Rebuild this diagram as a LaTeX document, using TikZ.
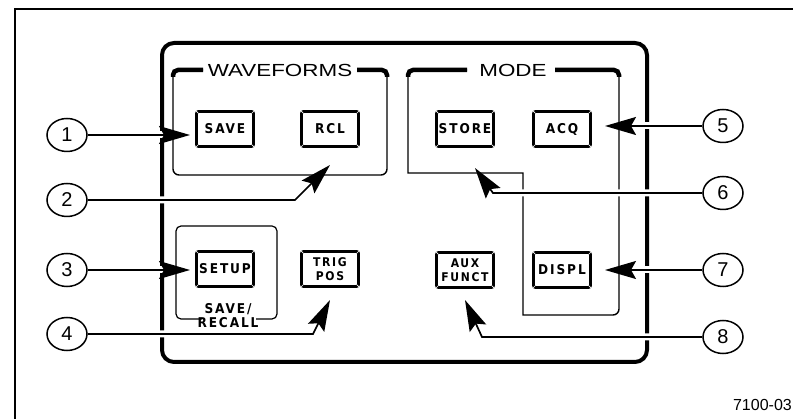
\documentclass[tikz,border=0pt]{standalone}
\usepackage{fontspec}
\usepackage{graphicx}
\setmainfont{Liberation Sans}
\newfontfamily\keyfont{DejaVu Sans Condensed}[LetterSpace=14]
\usetikzlibrary{positioning,shapes.geometric,arrows.meta}

\tikzset{
  key/.style={draw, line width=2.8pt, rounded corners=2pt, minimum width=57pt,
    minimum height=35pt, inner sep=0pt, align=center,
    font=\keyfont\bfseries\fontsize{13.5}{13.5}\selectfont},
  keysmall/.style={font=\keyfont\bfseries\fontsize{12}{14}\selectfont},
  num/.style={draw, ellipse, line width=1.5pt, minimum width=40pt,
    minimum height=33pt, inner sep=0pt, font=\fontsize{20}{20}\selectfont},
  callout/.style={-{Stealth[length=31pt, width=18pt, inset=5pt]}, line width=1.7pt,
    preaction={draw=white, line width=7pt, -, shorten <=4pt, shorten >=14pt}},
  box/.style={line width=1.4pt, rounded corners=6pt},
  bar/.style={line width=4.5pt, rounded corners=5pt},
  title/.style={inner sep=0pt, font=\fontsize{17.5}{17.5}\selectfont}
}

\begin{document}
\begin{tikzpicture}[x=1pt, y=-1pt, node distance=105pt, on grid]
  \useasboundingbox (0,0) rectangle (793,419);

  % outer frame and panel
  \draw[line width=1.8pt] (15,419) |- (793,9);
  \draw[line width=4pt, rounded corners=12pt] (162,43) rectangle (647,362);

  % group boxes
  \node[title] (wave) at (280,70) {\scalebox{1.28}[1]{WAVEFORMS}};
  \draw[box] (203,70) -- (173,70) -- (173,175) -- (387,175) -- (387,70) -- (357,70);
  \draw[bar] (203,70) -- (173,70) -- (173,77);
  \draw[bar] (357,70) -- (387,70) -- (387,77);

  \node[title] (mode) at (513,70) {\scalebox{1.28}[1]{MODE}};
  \draw[box] (467,70) -- (408,70) -- (408,120) [sharp corners] -- (408,173)
    -- (523,173) -- (523,315) -- (570,315) [rounded corners=6pt] -- (619,315)
    -- (619,70) -- (555,70);
  \draw[bar] (467,70) -- (408,70) -- (408,77);
  \draw[bar] (555,70) -- (619,70) -- (619,77);

  \node[inner sep=0pt, align=center, font=\keyfont\bfseries\fontsize{13.5}{14}\selectfont]
    (saverecall) at (228,316) {SAVE/\\RECALL};
  \draw[box, line width=1.2pt, rounded corners=5pt] (202,319) -- (176,319) -- (176,226)
    -- (277,226) -- (277,319) -- (256,319);

  % keys
  \node[key] (save) at (225,129) {SAVE};
  \node[key, right=of save] (rcl) {RCL};
  \node[key, below=140pt of save] (setup) {SETUP};
  \node[key, keysmall, right=of setup] (trig) {TRIG\\POS};
  \node[key] (store) at (465,129) {STORE};
  \node[key, right=97pt of store] (acq) {ACQ};
  \node[key, keysmall, below=141pt of store] (aux) {AUX\\FUNCT};
  \node[key, right=97pt of aux] (displ) {DISPL};
  \foreach \k in {save,rcl,setup,trig,store,acq,aux,displ}
    \foreach \a/\u/\v in {north west/1/1, north east/-1/1, south west/1/-1, south east/-1/-1}
      \draw[white, line width=0.7pt] ([shift={(\u*0.3,\v*0.3)}]\k.\a) -- ++(\u*2.8,\v*2.8);

  % callout numbers
  \node[num] (c1) at (67,135) {1};
  \node[num, below=65pt of c1] (c2) {2};
  \node[num, below=70pt of c2] (c3) {3};
  \node[num, below=64pt of c3] (c4) {4};
  \node[num] (c5) at (723,126) {5};
  \node[num, below=67pt of c5] (c6) {6};
  \node[num, below=77pt of c6] (c7) {7};
  \node[num, below=67pt of c7] (c8) {8};

  % arrow tips and bends
  \coordinate (t1) at (190,135);
  \coordinate (b2) at (295,200);
  \coordinate (t2) at (330,165);
  \coordinate (t3) at (190,270);
  \coordinate (b4) at (313,334);
  \coordinate (t4) at (330,300);
  \coordinate (t5) at (605,126);
  \coordinate (b6) at (493,193);
  \coordinate (t6) at (475,168);
  \coordinate (t7) at (605,270);
  \coordinate (b8) at (482,337);
  \coordinate (t8) at (465,300);

  \draw[callout] (c1) -- (t1);
  \draw[callout] (c2) -- (b2) -- (t2);
  \draw[callout] (c3) -- (t3);
  \draw[callout] (c4) -- (b4) -- (t4);
  \draw[callout] (c5) -- (t5);
  \draw[callout] (c6) -- (b6) -- (t6);
  \draw[callout] (c7) -- (t7);
  \draw[callout] (c8) -- (b8) -- (t8);

  \node[anchor=east, inner sep=0pt, font=\fontsize{16}{16}\selectfont] (fig) at (792,405) {7100-03};
\end{tikzpicture}
\end{document}
